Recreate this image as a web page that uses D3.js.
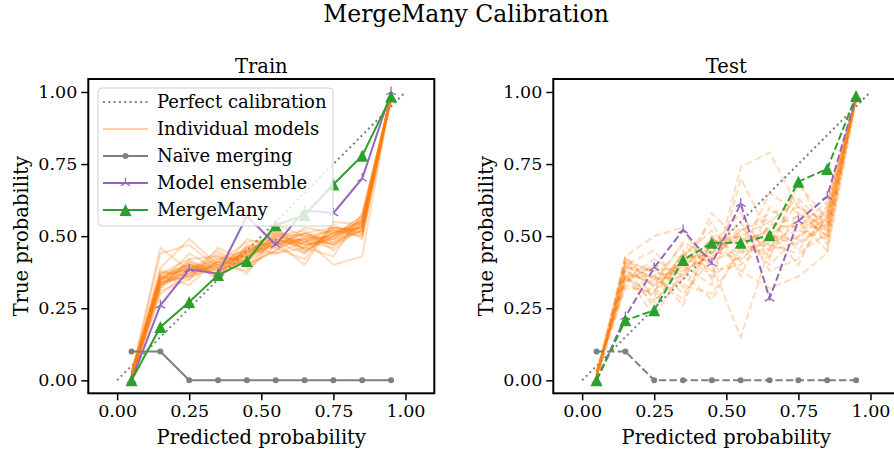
<!DOCTYPE html>
<html>
<head>
<meta charset="utf-8">
<script src="https://cdn.jsdelivr.net/npm/d3@7"></script>
<style>
  body { margin: 0; background: #fff; }
  svg { display: block; font-family: "DejaVu Serif", serif; }
</style>
</head>
<body>
<script>
// bin centers
const bins = [0.05, 0.15, 0.25, 0.35, 0.45, 0.55, 0.65, 0.75, 0.85, 0.95];
const ticks = [0, 0.25, 0.5, 0.75, 1];

const naiveTrain = [0.10, 0.10, 0, 0, 0, 0, 0, 0, 0, 0];
const ensembleTrain = [0.0, 0.26, 0.385, 0.37, 0.57, 0.47, 0.59, 0.58, 0.70, 1.0];
const mergeTrain = [0.0, 0.185, 0.272, 0.365, 0.414, 0.538, 0.573, 0.679, 0.779, 0.984];

const naiveTest = [0.10, 0.10, 0, 0, 0, 0, 0, 0, 0, 0];
const ensembleTest = [0.0, 0.22, 0.391, 0.521, 0.405, 0.613, 0.284, 0.553, 0.637, 0.984];
const mergeTest = [0.0, 0.208, 0.243, 0.417, 0.477, 0.477, 0.503, 0.689, 0.733, 0.986];

const modelsTrain = [
  [0.01, 0.33, 0.37, 0.40, 0.44, 0.47, 0.49, 0.50, 0.53, 0.99],
  [0.02, 0.35, 0.39, 0.38, 0.42, 0.49, 0.46, 0.51, 0.55, 0.98],
  [0.00, 0.31, 0.35, 0.41, 0.40, 0.45, 0.50, 0.47, 0.52, 0.99],
  [0.03, 0.37, 0.40, 0.37, 0.46, 0.48, 0.44, 0.52, 0.50, 0.98],
  [0.01, 0.34, 0.36, 0.43, 0.41, 0.51, 0.47, 0.49, 0.56, 0.99],
  [0.02, 0.46, 0.38, 0.45, 0.39, 0.50, 0.52, 0.45, 0.54, 0.97],
  [0.00, 0.32, 0.42, 0.36, 0.47, 0.44, 0.48, 0.53, 0.51, 0.99],
  [0.01, 0.36, 0.33, 0.42, 0.43, 0.53, 0.45, 0.50, 0.57, 0.98],
  [0.02, 0.39, 0.49, 0.40, 0.38, 0.47, 0.51, 0.48, 0.52, 0.99],
  [0.01, 0.33, 0.38, 0.39, 0.45, 0.46, 0.42, 0.54, 0.49, 0.98],
  [0.03, 0.35, 0.41, 0.35, 0.44, 0.52, 0.48, 0.46, 0.55, 0.99],
  [0.00, 0.30, 0.37, 0.44, 0.40, 0.45, 0.53, 0.51, 0.53, 0.99],
  [0.02, 0.38, 0.36, 0.41, 0.48, 0.49, 0.46, 0.43, 0.58, 0.98],
  [0.01, 0.34, 0.44, 0.38, 0.42, 0.54, 0.50, 0.52, 0.50, 0.99],
  [0.02, 0.36, 0.35, 0.46, 0.41, 0.48, 0.40, 0.55, 0.54, 0.97],
  [0.01, 0.32, 0.39, 0.37, 0.49, 0.46, 0.49, 0.40, 0.43, 0.99],
  [0.00, 0.37, 0.42, 0.43, 0.37, 0.50, 0.47, 0.49, 0.56, 0.98],
  [0.03, 0.33, 0.40, 0.36, 0.46, 0.51, 0.44, 0.53, 0.52, 0.99],
  [0.01, 0.35, 0.37, 0.40, 0.43, 0.47, 0.51, 0.47, 0.55, 0.98],
  [0.02, 0.44, 0.47, 0.39, 0.45, 0.44, 0.46, 0.51, 0.53, 0.99],
  [0.01, 0.34, 0.38, 0.41, 0.44, 0.50, 0.48, 0.50, 0.54, 0.99],
  [0.02, 0.36, 0.40, 0.39, 0.43, 0.48, 0.49, 0.52, 0.53, 0.98],
  [0.00, 0.35, 0.39, 0.42, 0.45, 0.49, 0.47, 0.48, 0.56, 0.99],
  [0.01, 0.33, 0.41, 0.38, 0.42, 0.51, 0.50, 0.49, 0.52, 0.99],
  [0.02, 0.37, 0.38, 0.40, 0.46, 0.47, 0.48, 0.51, 0.55, 0.98],
  [0.01, 0.34, 0.36, 0.39, 0.44, 0.52, 0.45, 0.50, 0.57, 0.99],
  [0.02, 0.36, 0.39, 0.41, 0.43, 0.49, 0.51, 0.53, 0.51, 0.98],
  [0.00, 0.35, 0.40, 0.37, 0.45, 0.48, 0.49, 0.47, 0.54, 0.99]
];

const modelsTest = [
  [0.02, 0.38, 0.33, 0.40, 0.45, 0.42, 0.50, 0.47, 0.55, 0.98],
  [0.01, 0.42, 0.28, 0.35, 0.50, 0.47, 0.43, 0.58, 0.50, 0.99],
  [0.03, 0.34, 0.40, 0.30, 0.42, 0.52, 0.56, 0.45, 0.58, 0.97],
  [0.00, 0.40, 0.25, 0.45, 0.38, 0.40, 0.48, 0.62, 0.47, 0.99],
  [0.02, 0.36, 0.36, 0.28, 0.48, 0.50, 0.40, 0.50, 0.60, 0.98],
  [0.01, 0.43, 0.50, 0.53, 0.35, 0.74, 0.79, 0.60, 0.52, 0.99],
  [0.03, 0.32, 0.31, 0.42, 0.55, 0.36, 0.60, 0.52, 0.49, 0.98],
  [0.00, 0.39, 0.38, 0.33, 0.30, 0.45, 0.45, 0.68, 0.56, 0.99],
  [0.02, 0.37, 0.22, 0.38, 0.44, 0.55, 0.38, 0.42, 0.57, 0.97],
  [0.01, 0.41, 0.35, 0.47, 0.40, 0.15, 0.46, 0.55, 0.45, 0.99],
  [0.03, 0.35, 0.42, 0.36, 0.58, 0.48, 0.52, 0.40, 0.61, 0.98],
  [0.00, 0.33, 0.30, 0.44, 0.36, 0.43, 0.65, 0.58, 0.53, 0.99],
  [0.02, 0.40, 0.45, 0.32, 0.47, 0.58, 0.42, 0.70, 0.48, 0.98],
  [0.01, 0.36, 0.27, 0.40, 0.33, 0.70, 0.50, 0.49, 0.59, 0.99],
  [0.03, 0.42, 0.37, 0.26, 0.50, 0.38, 0.32, 0.36, 0.44, 0.97],
  [0.00, 0.38, 0.33, 0.48, 0.42, 0.52, 0.58, 0.60, 0.55, 0.99],
  [0.02, 0.34, 0.40, 0.37, 0.28, 0.46, 0.47, 0.44, 0.51, 0.98],
  [0.01, 0.43, 0.32, 0.43, 0.52, 0.41, 0.54, 0.53, 0.62, 0.99],
  [0.02, 0.37, 0.34, 0.41, 0.46, 0.49, 0.51, 0.55, 0.52, 0.98],
  [0.01, 0.39, 0.36, 0.38, 0.43, 0.51, 0.47, 0.50, 0.56, 0.99],
  [0.03, 0.35, 0.31, 0.44, 0.41, 0.46, 0.53, 0.57, 0.50, 0.98],
  [0.00, 0.41, 0.38, 0.39, 0.49, 0.44, 0.49, 0.52, 0.58, 0.99],
  [0.02, 0.36, 0.29, 0.42, 0.44, 0.53, 0.45, 0.48, 0.54, 0.97],
  [0.01, 0.40, 0.35, 0.36, 0.47, 0.50, 0.55, 0.63, 0.53, 0.99]
];

const legendLabels = ["Perfect calibration", "Individual models", "Na\u00efve merging", "Model ensemble", "MergeMany"];

const w = 894, h = 453;
const plotTop = 79, plotBottom = 393.3, pw = 346;
const colors = { orange: "#ff7f0e", gray: "#7f7f7f", purple: "#9467bd", green: "#2ca02c" };

const svg = d3.select("body").append("svg")
  .attr("width", w)
  .attr("height", h);

svg.append("text")
  .text("MergeMany Calibration")
  .attr("x", 466)
  .attr("y", 22)
  .attr("text-anchor", "middle")
  .attr("font-size", 23.5);

const yScale = d3.scaleLinear().domain([-0.045, 1.045]).range([plotBottom, plotTop]);

// marker paths
const triUp = (r) => `M0,0L0,${-r}M0,0L${-r * 0.866},${r * 0.5}M0,0L${r * 0.866},${r * 0.5}`;
const triangle = (s) => `M0,${-s}L${-s},${s}L${s},${s}Z`;

const panels = [
  { x0: 88.3, title: "Train", dash: null, models: modelsTrain, naive: naiveTrain, ens: ensembleTrain, merge: mergeTrain, legend: true, ylab: 22 },
  { x0: 553.3, title: "Test", dash: "7.4,3.2", models: modelsTest, naive: naiveTest, ens: ensembleTest, merge: mergeTest, legend: false, ylab: 487 }
];

panels.forEach((p, pi) => {
  const xScale = d3.scaleLinear().domain([-0.1, 1.1]).range([p.x0, p.x0 + pw]);
  const g = svg.append("g");

  const clipId = "clip" + pi;
  svg.append("clipPath").attr("id", clipId)
    .append("rect")
    .attr("x", p.x0).attr("y", plotTop)
    .attr("width", pw).attr("height", plotBottom - plotTop);

  const plot = g.append("g").attr("clip-path", `url(#${clipId})`);
  const line = d3.line().x((d, i) => xScale(bins[i])).y(d => yScale(d));

  // perfect calibration
  plot.append("line")
    .attr("x1", xScale(0)).attr("y1", yScale(0))
    .attr("x2", xScale(1)).attr("y2", yScale(1))
    .attr("stroke", colors.gray)
    .attr("stroke-width", 2)
    .attr("stroke-dasharray", "2,3.3");

  // individual models
  plot.selectAll(".model")
    .data(p.models)
    .enter()
    .append("path")
    .attr("class", "model")
    .attr("d", line)
    .attr("fill", "none")
    .attr("stroke", colors.orange)
    .attr("stroke-opacity", 0.27)
    .attr("stroke-width", 2)
    .attr("stroke-dasharray", p.dash);

  // naive merging
  plot.append("path")
    .attr("d", line(p.naive))
    .attr("fill", "none")
    .attr("stroke", colors.gray)
    .attr("stroke-width", 2)
    .attr("stroke-dasharray", p.dash);
  plot.selectAll(".naive")
    .data(p.naive)
    .enter()
    .append("circle")
    .attr("cx", (d, i) => xScale(bins[i]))
    .attr("cy", d => yScale(d))
    .attr("r", 3)
    .attr("fill", colors.gray);

  // model ensemble
  plot.append("path")
    .attr("d", line(p.ens))
    .attr("fill", "none")
    .attr("stroke", colors.purple)
    .attr("stroke-width", 2)
    .attr("stroke-dasharray", p.dash);
  plot.selectAll(".ens")
    .data(p.ens)
    .enter()
    .append("path")
    .attr("transform", (d, i) => `translate(${xScale(bins[i])},${yScale(d)})`)
    .attr("d", triUp(5.5))
    .attr("stroke", colors.purple)
    .attr("stroke-width", 1.3)
    .attr("fill", "none");

  // MergeMany
  plot.append("path")
    .attr("d", line(p.merge))
    .attr("fill", "none")
    .attr("stroke", colors.green)
    .attr("stroke-width", 2)
    .attr("stroke-dasharray", p.dash);
  plot.selectAll(".mm")
    .data(p.merge)
    .enter()
    .append("path")
    .attr("transform", (d, i) => `translate(${xScale(bins[i])},${yScale(d)})`)
    .attr("d", triangle(6))
    .attr("fill", colors.green);

  // axes
  const xAxis = g.append("g")
    .attr("transform", `translate(0,${plotBottom})`)
    .call(d3.axisBottom(xScale).tickValues(ticks).tickFormat(d3.format(".2f")).tickSizeInner(7).tickSizeOuter(0).tickPadding(4));
  const yAxis = g.append("g")
    .attr("transform", `translate(${p.x0},0)`)
    .call(d3.axisLeft(yScale).tickValues(ticks).tickFormat(d3.format(".2f")).tickSizeInner(7).tickSizeOuter(0).tickPadding(4));
  [xAxis, yAxis].forEach(a => {
    a.select(".domain").remove();
    a.selectAll("line").attr("stroke", "#000").attr("stroke-width", 1.5);
    a.selectAll("text").attr("font-family", "DejaVu Serif").attr("font-size", 17.5).attr("fill", "#000");
  });

  // frame
  g.append("rect")
    .attr("x", p.x0).attr("y", plotTop)
    .attr("width", pw).attr("height", plotBottom - plotTop)
    .attr("fill", "none")
    .attr("stroke", "#000")
    .attr("stroke-width", 2);

  g.append("text")
    .text(p.title)
    .attr("x", p.x0 + pw / 2)
    .attr("y", 73)
    .attr("text-anchor", "middle")
    .attr("font-size", 19.5);

  g.append("text")
    .text("Predicted probability")
    .attr("x", p.x0 + pw / 2)
    .attr("y", 444)
    .attr("text-anchor", "middle")
    .attr("font-size", 19.5);

  g.append("text")
    .text("True probability")
    .attr("transform", `translate(${p.ylab + 6},${(plotTop + plotBottom) / 2})rotate(-90)`)
    .attr("text-anchor", "middle")
    .attr("font-size", 19.5);

  if (p.legend) {
    const lg = g.append("g");
    lg.append("rect")
      .attr("x", 98).attr("y", 88)
      .attr("width", 235).attr("height", 138)
      .attr("rx", 4)
      .attr("fill", "#fff")
      .attr("fill-opacity", 0.8)
      .attr("stroke", "#d0d0d0")
      .attr("stroke-width", 1);
    const items = [
      { c: colors.gray, dash: "2,3.3", op: 1, mark: null },
      { c: colors.orange, dash: null, op: 0.4, mark: null },
      { c: colors.gray, dash: null, op: 1, mark: "circle" },
      { c: colors.purple, dash: null, op: 1, mark: "tri" },
      { c: colors.green, dash: null, op: 1, mark: "triangle" }
    ];
    items.forEach((it, i) => {
      const y = 102 + i * 27;
      lg.append("line")
        .attr("x1", 103).attr("x2", 148)
        .attr("y1", y).attr("y2", y)
        .attr("stroke", it.c)
        .attr("stroke-opacity", it.op)
        .attr("stroke-width", 2)
        .attr("stroke-dasharray", it.dash);
      if (it.mark === "circle") {
        lg.append("circle").attr("cx", 125.5).attr("cy", y).attr("r", 3).attr("fill", it.c);
      } else if (it.mark === "tri") {
        lg.append("path").attr("transform", `translate(125.5,${y})`).attr("d", triUp(5.5))
          .attr("stroke", it.c).attr("stroke-width", 1.3).attr("fill", "none");
      } else if (it.mark === "triangle") {
        lg.append("path").attr("transform", `translate(125.5,${y})`).attr("d", triangle(6)).attr("fill", it.c);
      }
      lg.append("text")
        .text(legendLabels[i])
        .attr("x", 157)
        .attr("y", y + 6)
        .attr("font-size", 18);
    });
  }
});
</script>
</body>
</html>
